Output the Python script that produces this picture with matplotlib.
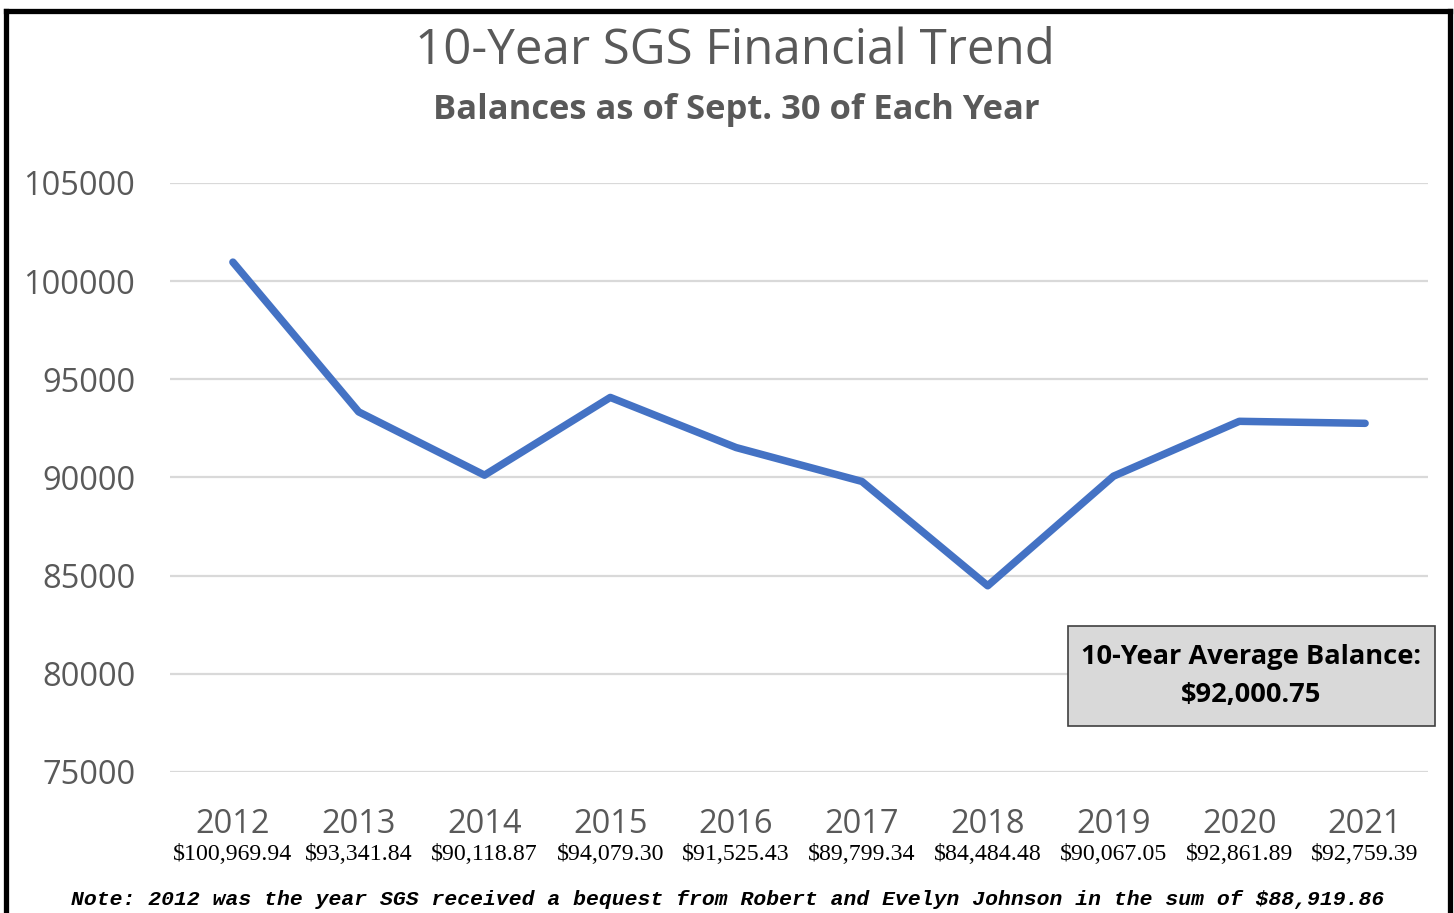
import matplotlib
matplotlib.use("Agg")
import matplotlib.pyplot as plt
from matplotlib.lines import Line2D
from matplotlib.patches import Rectangle

years = ["2012", "2013", "2014", "2015", "2016", "2017", "2018", "2019", "2020", "2021"]
balances = [100969.94, 93341.84, 90118.87, 94079.30, 91525.43,
            89799.34, 84484.48, 90067.05, 92861.89, 92759.39]
yticks = [75000, 80000, 85000, 90000, 95000, 100000, 105000]
title = "10-Year SGS Financial Trend"
subtitle = "Balances as of Sept. 30 of Each Year"
note = "Note: 2012 was the year SGS received a bequest from Robert and Evelyn Johnson in the sum of $88,919.86"
avg_label = "10-Year Average Balance:"

W, H = 1454, 913
fig = plt.figure(figsize=(W / 100, H / 100), dpi=100)
fig.patch.set_facecolor("white")

def fx(px):
    return px / W

def fy(py):
    return 1 - py / H

ax = fig.add_axes([fx(170), fy(772), fx(1428) - fx(170), fy(183) - fy(772)])
x = list(range(len(years)))
ax.plot(x, balances, color="#4472C4", lw=5.4, solid_capstyle="round",
        solid_joinstyle="round", zorder=3)
ax.set_xlim(-0.5, len(years) - 0.5)
ax.set_ylim(yticks[0], yticks[-1])
ax.set_yticks(yticks)
ax.set_yticklabels([str(v) for v in yticks])
ax.yaxis.grid(True, color="#d9d9d9", lw=1.6)
ax.set_axisbelow(True)
for s in ax.spines.values():
    s.set_visible(False)
ax.tick_params(axis="y", length=0, pad=25, labelsize=23.5, labelcolor="#595959")
ax.tick_params(axis="x", length=0, pad=26, labelsize=23.5, labelcolor="#595959")
for lab in ax.get_yticklabels():
    lab.set_fontfamily("Open Sans")
ax.set_xticks(x)
ax.set_xticklabels(years, fontfamily="Open Sans")

for xi, v in zip(x, balances):
    ax.annotate(f"${v:,.2f}", xy=(xi, 0), xycoords=("data", "axes fraction"),
                xytext=(0, -82), textcoords="offset pixels",
                ha="center", va="center", fontsize=17.2,
                fontfamily="Liberation Serif", color="black")

fig.text(fx(735), fy(51), title, ha="center", va="center", fontsize=35.5,
         color="#595959", fontfamily="Open Sans")
fig.text(fx(736), fy(110), subtitle, ha="center", va="center", fontsize=24.8,
         color="#595959", fontfamily="Open Sans", fontweight="bold")

fig.text(fx(728), fy(899), note, ha="center", va="center", fontsize=15.4,
         fontfamily="Liberation Mono", fontweight="bold", fontstyle="italic",
         color="black")

avg = sum(balances) / len(balances)
fig.patches.append(Rectangle((fx(1068), fy(726)), fx(1435) - fx(1068), fy(626) - fy(726),
                             transform=fig.transFigure, facecolor="#d9d9d9",
                             edgecolor="#404040", lw=1.2, zorder=5))
fig.text(fx(1251), fy(657), avg_label, ha="center", va="center", fontsize=19.6,
         fontweight="bold", fontfamily="Open Sans", color="black", zorder=6)
fig.text(fx(1251), fy(695), f"${avg:,.2f}", ha="center", va="center", fontsize=19.6,
         fontweight="bold", fontfamily="Open Sans", color="black", zorder=6)

# outer frame
frame_kw = dict(transform=fig.transFigure, color="black", lw=3.8, solid_capstyle="projecting")
fig.lines.append(Line2D([fx(6), fx(6)], [fy(11), fy(913)], **frame_kw))
fig.lines.append(Line2D([fx(6), fx(1449.5)], [fy(11), fy(11)], **frame_kw))
fig.lines.append(Line2D([fx(1449.5), fx(1449.5)], [fy(11), fy(913)], **frame_kw))

fig.savefig("out.png", dpi=100)
